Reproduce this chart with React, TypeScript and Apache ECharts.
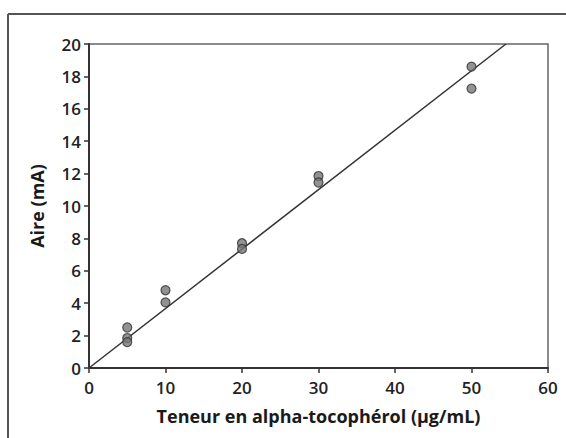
import React, { useEffect, useRef } from "react";
import * as echarts from "echarts";

const xTicks = [0, 10, 20, 30, 40, 50, 60];
const yTicks = [0, 2, 4, 6, 8, 10, 12, 14, 16, 18, 20];
const concentrations = [5, 5, 5, 10, 10, 20, 20, 30, 30, 50, 50];
const areas = [2.5, 1.85, 1.6, 4.8, 4.05, 7.7, 7.35, 11.85, 11.45, 18.6, 17.25];
const fitX = [0, 54.5];
const fitY = [0, 20];

const xTitle = "Teneur en alpha-tocophérol (µg/mL)";
const yTitle = "Aire (mA)";

export default function App() {
  const ref = useRef<HTMLDivElement>(null);
  useEffect(() => {
    if (!ref.current) return;
    const chart = echarts.init(ref.current, undefined, { renderer: "svg" });
    const font = "'Open Sans', 'Noto Sans', sans-serif";
    chart.setOption({
      animation: false,
      backgroundColor: "#ffffff",
      textStyle: { fontFamily: font },
      grid: {
        left: 89,
        top: 44,
        right: 18,
        bottom: 70,
        show: true,
        borderColor: "#666",
        borderWidth: 1.5,
      },
      xAxis: {
        type: "value",
        min: xTicks[0],
        max: xTicks[xTicks.length - 1],
        interval: 10,
        name: xTitle,
        nameLocation: "middle",
        nameGap: 39,
        nameTextStyle: { fontSize: 18, fontWeight: "bold", color: "#1a1a1a", fontFamily: font },
        axisLine: { show: true, onZero: false, lineStyle: { color: "#333", width: 2 } },
        axisTick: { show: true, inside: false, length: 5, lineStyle: { color: "#333", width: 1.5 } },
        axisLabel: { fontSize: 17, fontWeight: 600, color: "#222", margin: 11, fontFamily: font },
        splitLine: { show: false },
      },
      yAxis: {
        type: "value",
        min: yTicks[0],
        max: yTicks[yTicks.length - 1],
        interval: 2,
        name: yTitle,
        nameLocation: "middle",
        nameGap: 43,
        nameRotate: 90,
        nameTextStyle: { fontSize: 18, fontWeight: "bold", color: "#1a1a1a", fontFamily: font },
        axisLine: { show: true, onZero: false, lineStyle: { color: "#333", width: 2 } },
        axisTick: { show: true, inside: false, length: 5, lineStyle: { color: "#333", width: 1.5 } },
        axisLabel: { fontSize: 17, fontWeight: 600, color: "#222", margin: 8, fontFamily: font },
        splitLine: { show: false },
      },
      series: [
        {
          type: "line",
          data: fitX.map((x, i) => [x, fitY[i]]),
          symbol: "none",
          lineStyle: { color: "#333", width: 1.5 },
          z: 2,
        },
        {
          type: "scatter",
          data: concentrations.map((x, i) => [x, areas[i]]),
          symbol: "circle",
          symbolSize: 9,
          itemStyle: { color: "#777", borderColor: "#333", borderWidth: 1.2 },
          z: 3,
        },
      ],
      graphic: [
        {
          type: "line",
          shape: { x1: 8, y1: 14, x2: 566, y2: 14 },
          style: { stroke: "#555", lineWidth: 2 },
        },
        {
          type: "line",
          shape: { x1: 8, y1: 14, x2: 8, y2: 438 },
          style: { stroke: "#555", lineWidth: 2 },
        },
      ],
    });
    return () => chart.dispose();
  }, []);
  return (
    <div
      ref={ref}
      style={{ position: "fixed", left: 0, top: 0, width: 566, height: 438, background: "#fff" }}
    />
  );
}
